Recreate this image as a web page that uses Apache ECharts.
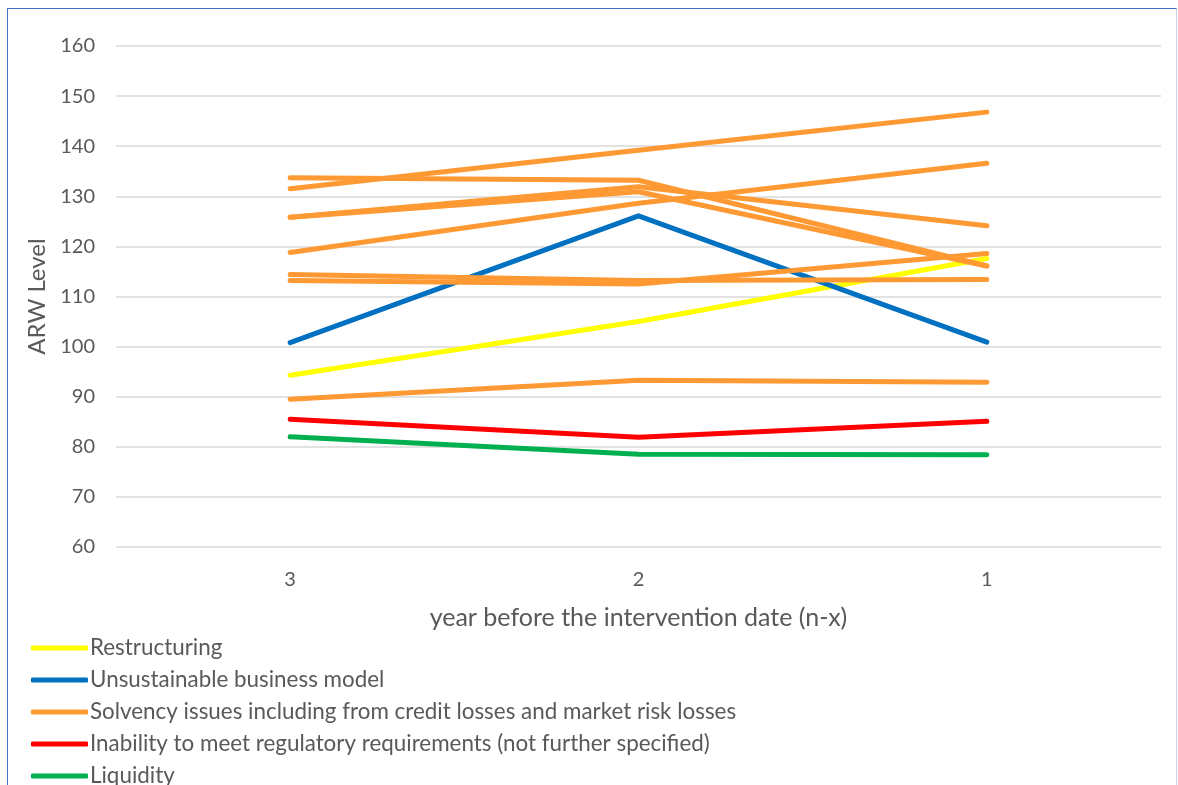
<!DOCTYPE html>
<html>
<head>
<meta charset="utf-8">
<script src="https://cdn.jsdelivr.net/npm/echarts@6/dist/echarts.min.js"></script>
<style>
html,body{margin:0;padding:0;background:#fff;overflow:hidden;}
#frame{position:absolute;left:7px;top:8px;width:1170px;height:820px;border-left:1.5px solid #4472C4;border-top:1.5px solid #4472C4;border-right:1.5px solid #C9D3EC;box-sizing:border-box;}
#chart{position:absolute;left:0;top:0;width:1178px;height:830px;}
</style>
</head>
<body>
<div id="frame"></div>
<div id="chart"></div>
<script>
const categories = ['3', '2', '1'];
const yTicks = [60, 70, 80, 90, 100, 110, 120, 130, 140, 150, 160];

const restructuring = [94.3, 105.0, 117.6];
const unsustainable = [100.8, 126.1, 100.9];
const solvency1 = [131.5, 139.2, 146.8];
const solvency2 = [133.7, 133.2, 116.1];
const solvency3 = [125.8, 131.9, 124.1];
const solvency4 = [125.8, 130.9, 116.1];
const solvency5 = [118.8, 128.6, 136.6];
const solvency6 = [114.4, 113.2, 113.4];
const solvency7 = [113.2, 112.5, 118.6];
const solvency8 = [89.5, 93.3, 92.9];
const inability = [85.5, 81.9, 85.1];
const liquidity = [82.0, 78.5, 78.4];

const names = {
  r: 'Restructuring',
  u: 'Unsustainable business model',
  s: 'Solvency issues including from credit losses and market risk losses',
  i: 'Inability to meet regulatory requirements (not further specified)',
  l: 'Liquidity'
};
const colors = {r:'#FFFF00', u:'#0070C0', s:'#FF9933', i:'#FF0000', l:'#00B050'};

function line(name, color, data) {
  return {
    type: 'line', name: name, data: data, symbol: 'none', silent: true,
    lineStyle: {color: color, width: 5, cap: 'round', join: 'round'},
    itemStyle: {color: color},
    emphasis: {disabled: true}
  };
}

const series = [
  line(names.r, colors.r, restructuring),
  line(names.u, colors.u, unsustainable),
  line(names.s, colors.s, solvency8),
  line(names.s, colors.s, solvency7),
  line(names.s, colors.s, solvency6),
  line(names.s, colors.s, solvency5),
  line(names.s, colors.s, solvency4),
  line(names.s, colors.s, solvency3),
  line(names.s, colors.s, solvency2),
  line(names.s, colors.s, solvency1),
  line(names.i, colors.i, inability),
  line(names.l, colors.l, liquidity)
];

const chart = echarts.init(document.getElementById('chart'), null, {renderer: 'canvas'});
const fontFamily = 'Lato, "Open Sans", sans-serif';
chart.setOption({
  animation: false,
  textStyle: {fontFamily: fontFamily},
  grid: {left: 116, right: 17, top: 46, bottom: 283, containLabel: false},
  xAxis: {
    type: 'category', data: categories, boundaryGap: true,
    axisLine: {show: false}, axisTick: {show: false},
    axisLabel: {color: '#595959', fontSize: 20, margin: 23, fontFamily: fontFamily},
    name: 'year before the intervention date (n-x)', nameLocation: 'middle', nameGap: 58,
    nameTextStyle: {color: '#595959', fontSize: 25, fontFamily: fontFamily}
  },
  yAxis: {
    type: 'value', min: yTicks[0], max: yTicks[yTicks.length - 1], interval: 10,
    axisLine: {show: false}, axisTick: {show: false},
    axisLabel: {color: '#595959', fontSize: 20, margin: 21, fontFamily: fontFamily},
    splitLine: {lineStyle: {color: '#D9D9D9', width: 1.5}},
    name: 'ARW Level', nameLocation: 'middle', nameGap: 66,
    nameTextStyle: {color: '#595959', fontSize: 24, fontFamily: fontFamily}
  },
  legend: {
    orient: 'vertical', left: 31, top: 636, padding: 0,
    data: [names.r, names.u, names.s, names.i, names.l],
    icon: 'roundRect', itemWidth: 57, itemHeight: 5, itemGap: 8,
    textStyle: {color: '#595959', fontSize: 22.4, lineHeight: 24, padding: [0, 0, 0, -3], fontFamily: fontFamily},
    selectedMode: false
  },
  series: series
});
</script>
</body>
</html>
